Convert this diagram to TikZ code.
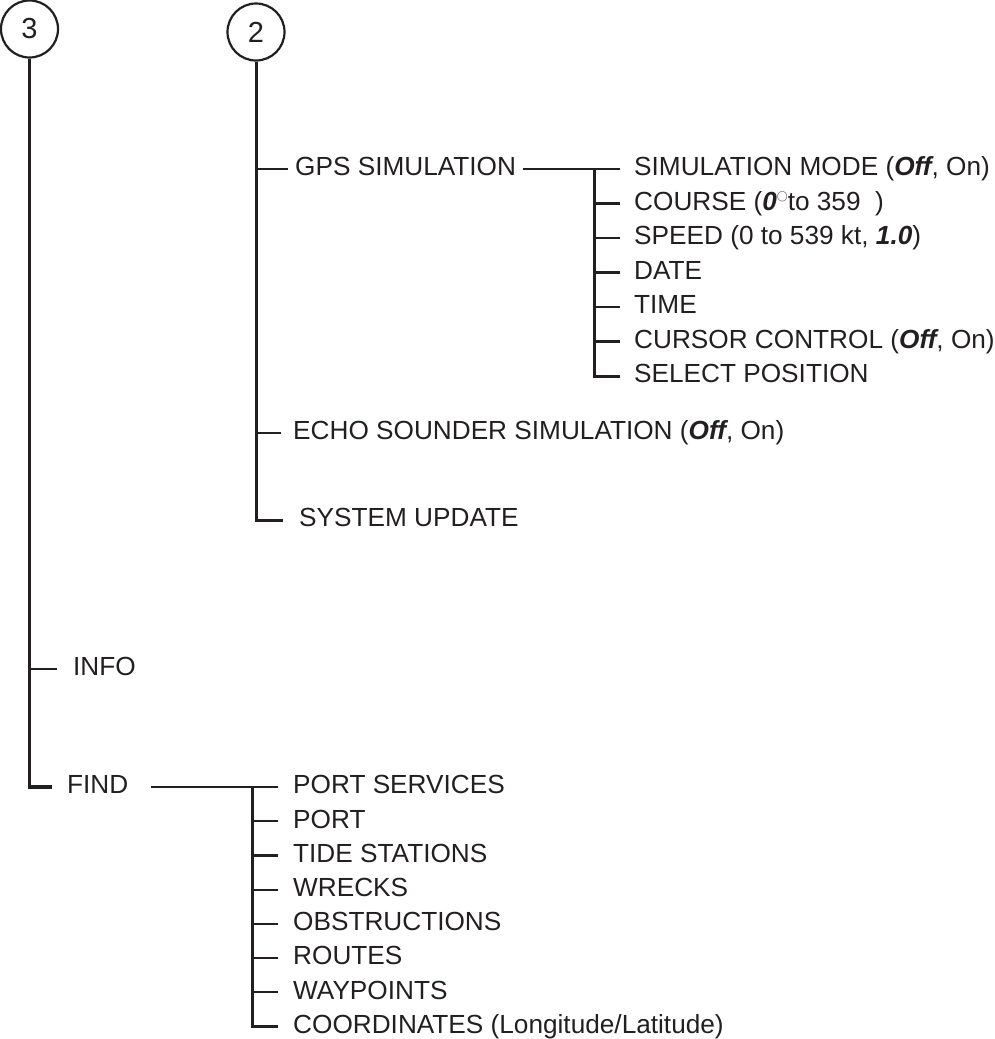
\documentclass[tikz,border=0pt]{standalone}
\usepackage{fontspec}
\setmainfont{Liberation Sans}
\definecolor{ink}{HTML}{231F20}
\newcommand{\bi}[1]{{\bfseries\itshape #1}}
\newcommand{\degc}{\raisebox{11pt}{\fontsize{10.5}{10.5}\selectfont$\bigcirc$}}
\begin{document}
\begin{tikzpicture}[x=1pt,y=-1pt,
  every node/.style={font=\fontsize{26.2}{30}\selectfont, text=ink},
  lbl/.style={anchor=west, inner ysep=0pt, inner xsep=#1, text height=18.7pt, text depth=5pt},
  lbl/.default=14pt,
  trunk/.style={line width=3.2pt, draw=ink},
  stem/.style={line width=3pt, draw=ink},
  twig/.style={line width=2.2pt, draw=ink},
  num/.style={circle, draw=ink, line width=2.2pt, minimum size=57pt, inner sep=0pt, font=\fontsize{29}{30}\selectfont}]
\useasboundingbox (0,0) rectangle (995,1039);

% circles
\node[num] (c3) at (29.5,29) {3};
\node[num] (c2) at (256,32) {2};

% branch 2
\node[lbl=7pt]  (gps)    at (288,169) {GPS SIMULATION};
\node[lbl=12pt] (echo)   at (281,433) {ECHO SOUNDER SIMULATION (\bi{Off}, On)};
\node[lbl=16pt] (sysupd) at (283,520) {SYSTEM UPDATE};
\draw[stem] (c2.south) |- (sysupd.west);
\draw[twig] (c2.south |- gps.west) -- (gps.west);
\draw[twig] (c2.south |- echo.west) -- (echo.west);

% GPS subtree
\node[lbl] (simmode) at (620,169)   {SIMULATION MODE (\bi{Off}, On)};
\node[lbl] (course)  at (620,203.5) {COURSE (\bi{0}\degc to 359\hspace{0.55em})};
\node[lbl] (speed)   at (620,238)   {SPEED (0 to 539 kt, \bi{1.0})};
\node[lbl] (date)    at (620,272.5) {DATE};
\node[lbl] (time)    at (620,307)   {TIME};
\node[lbl] (cursor)  at (620,341.5) {CURSOR CONTROL (\bi{Off}, On)};
\node[lbl] (selpos)  at (620,376)   {SELECT POSITION};
\coordinate (j1) at (594,169);
\draw[twig] (gps.east) -- (simmode.west);
\draw[stem] (j1) |- (selpos.west);
\foreach \n in {course,speed,date,time,cursor}
  \draw[twig] (j1 |- \n.west) -- (\n.west);

% branch 3
\node[lbl=16pt] (info) at (57,669) {INFO};
\node[lbl=15pt] (find) at (52,787) {FIND};
\draw[trunk] (c3.south) |- (find.west);
\draw[twig] (c3.south |- info.west) -- (info.west);

% FIND subtree
\node[lbl=15pt] (ps)    at (278,787)    {PORT SERVICES};
\node[lbl=15pt] (port)  at (278,821.2)  {PORT};
\node[lbl=15pt] (tide)  at (278,855.4)  {TIDE STATIONS};
\node[lbl=15pt] (wreck) at (278,889.6)  {WRECKS};
\node[lbl=15pt] (obst)  at (278,923.8)  {OBSTRUCTIONS};
\node[lbl=15pt] (route) at (278,958)    {ROUTES};
\node[lbl=15pt] (wp)    at (278,992.2)  {WAYPOINTS};
\node[lbl=15pt] (coord) at (278,1026.4) {COORDINATES (Longitude/Latitude)};
\coordinate (j2) at (252,787);
\draw[twig, shorten <=7pt] (find.east) -- (ps.west);
\draw[stem] (j2) |- (coord.west);
\foreach \n in {port,tide,wreck,obst,route,wp}
  \draw[twig] (j2 |- \n.west) -- (\n.west);
\end{tikzpicture}
\end{document}
